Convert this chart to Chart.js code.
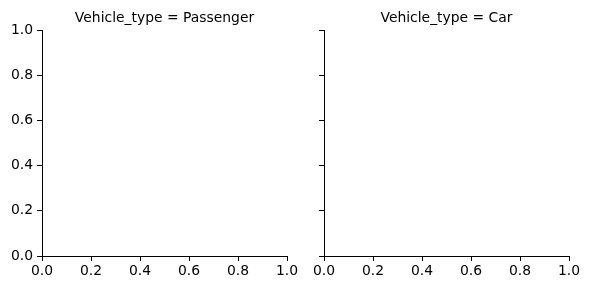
<!DOCTYPE html>
<html>
<head>
<meta charset="utf-8">
<script src="https://cdn.jsdelivr.net/npm/chart.js@4/dist/chart.umd.min.js"></script>
<style>
    html, body { margin: 0; padding: 0; background: #fff; }
    #wrap { position: relative; width: 589px; height: 290px; }
    #wrap canvas { position: absolute; left: 0; top: 0; }
</style>
</head>
<body>
<div id="wrap">
    <canvas id="PanelPassenger" width="589" height="290"></canvas>
    <canvas id="PanelCar" width="589" height="290"></canvas>
</div>
<script>
// facet values and the (empty) data of each panel
const facetVar = "Vehicle_type";
const panels = ["Passenger", "Car"];
const passengerPoints = [];
const carPoints = [];
const xTicks = [0.0, 0.2, 0.4, 0.6, 0.8, 1.0];
const yTicks = [0.0, 0.2, 0.4, 0.6, 0.8, 1.0];

const font = { family: "'DejaVu Sans', sans-serif", size: 13.9 };

// facet title drawn over the plot area, like seaborn does
const facetTitle = {
    id: "facetTitle",
    afterDraw(chart, args, opts) {
        const { ctx, chartArea } = chart;
        ctx.save();
        ctx.font = "13.9px 'DejaVu Sans', sans-serif";
        ctx.fillStyle = "#000";
        ctx.textAlign = "center";
        ctx.textBaseline = "alphabetic";
        ctx.fillText(opts.text, (chartArea.left + chartArea.right) / 2, chartArea.top - 8.5);
        ctx.restore();
    },
};

function FacetPanel(id, name, points, showYLabels, left, right) {
    const ctx = document.getElementById(id);

    new Chart(ctx, {
        type: "scatter",
        data: {
            datasets: [
                {
                    label: name,
                    data: points,
                },
            ],
        },
        options: {
            responsive: false,
            animation: false,
            layout: {
                padding: { left: 0, top: 30, right: 589 - right, bottom: 0 },
            },
            scales: {
                x: {
                    type: "linear",
                    min: 0,
                    max: 1,
                    afterFit: (scale) => { scale.height = 290 - 256; },
                    afterBuildTicks: (scale) => { scale.ticks = xTicks.map((v) => ({ value: v })); },
                    ticks: {
                        color: "#000",
                        font: font,
                        padding: 2,
                        maxRotation: 0,
                        callback: (v) => Number(v).toFixed(1),
                    },
                    grid: {
                        drawOnChartArea: false,
                        tickLength: 5,
                        tickColor: "#000",
                        tickWidth: 1,
                    },
                    border: { color: "#000", width: 1 },
                },
                y: {
                    type: "linear",
                    min: 0,
                    max: 1,
                    afterFit: (scale) => { scale.width = left; },
                    afterBuildTicks: (scale) => { scale.ticks = yTicks.map((v) => ({ value: v })); },
                    ticks: {
                        color: "#000",
                        font: font,
                        padding: 4,
                        callback: (v) => (showYLabels ? Number(v).toFixed(1) : ""),
                    },
                    grid: {
                        drawOnChartArea: false,
                        tickLength: 5,
                        tickColor: "#000",
                        tickWidth: 1,
                    },
                    border: { color: "#000", width: 1 },
                },
            },
            plugins: {
                legend: { display: false },
                tooltip: { enabled: false },
                facetTitle: { text: facetVar + " = " + name },
            },
        },
        plugins: [facetTitle],
    });
}

FacetPanel("PanelPassenger", panels[0], passengerPoints, true, 42, 287);
FacetPanel("PanelCar", panels[1], carPoints, false, 324, 569);
</script>
</body>
</html>
